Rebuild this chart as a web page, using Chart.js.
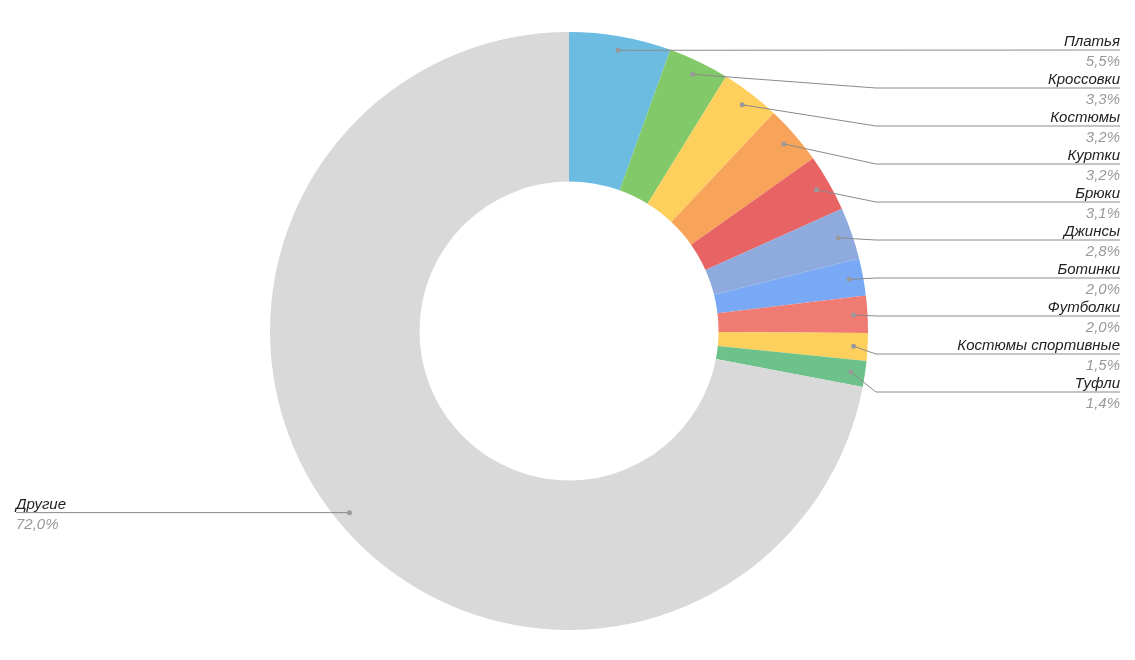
<!DOCTYPE html>
<html>
<head>
<meta charset="utf-8">
<script src="https://cdn.jsdelivr.net/npm/chart.js@4"></script>
<style>
  html, body { margin: 0; padding: 0; background: #fff; }
  #wrap { width: 1135px; height: 660px; }
</style>
</head>
<body>
<div id="wrap"><canvas id="chart"></canvas></div>
<script>
const categories = ['Платья', 'Кроссовки', 'Костюмы', 'Куртки', 'Брюки', 'Джинсы', 'Ботинки', 'Футболки', 'Костюмы спортивные', 'Туфли', 'Другие'];
const shares = [5.5, 3.3, 3.2, 3.2, 3.1, 2.8, 2.0, 2.0, 1.5, 1.4, 72.0];
const colors = ['#6bbce0', '#82c96a', '#fdd05e', '#f7a45a', '#e86464', '#8faadc', '#79a9f5', '#f07b72', '#fdd05e', '#6dc18a', '#d9d9d9'];

// labels with leader lines
const leaderLabels = {
  id: 'leaderLabels',
  afterDraw(chart) {
    const ctx = chart.ctx;
    const arcs = chart.getDatasetMeta(0).data;
    ctx.save();
    ctx.font = 'italic 15px "Liberation Sans", Arial, sans-serif';
    ctx.textBaseline = 'alphabetic';
    arcs.forEach((arc, i) => {
      const p = arc.getProps(['x', 'y', 'startAngle', 'endAngle', 'outerRadius']);
      const mid = (p.startAngle + p.endAngle) / 2;
      const r = p.outerRadius * 0.953;
      const dx = p.x + Math.cos(mid) * r;
      const dy = p.y + Math.sin(mid) * r;
      const pct = shares[i].toFixed(1).replace('.', ',') + '%';
      const last = i === arcs.length - 1;
      const lineY = last ? dy : 50 + i * 38;
      ctx.strokeStyle = '#8a8a8a';
      ctx.lineWidth = 1;
      ctx.beginPath();
      if (last) {
        ctx.moveTo(dx, dy);
        ctx.lineTo(16, dy);
      } else {
        ctx.moveTo(dx, dy);
        if (Math.abs(lineY - dy) > 1) ctx.lineTo(876, lineY);
        ctx.lineTo(1120, lineY);
      }
      ctx.stroke();
      ctx.fillStyle = '#999';
      ctx.beginPath();
      ctx.arc(dx, dy, 2.5, 0, Math.PI * 2);
      ctx.fill();
      ctx.textAlign = last ? 'left' : 'right';
      const tx = last ? 16 : 1120;
      ctx.fillStyle = '#222';
      ctx.fillText(categories[i], tx, lineY - 4);
      ctx.fillStyle = '#999';
      ctx.fillText(pct, tx, lineY + 16);
    });
    ctx.restore();
  }
};

new Chart(document.getElementById('chart'), {
  type: 'doughnut',
  data: {
    labels: categories,
    datasets: [{
      data: shares,
      backgroundColor: colors,
      borderWidth: 0
    }]
  },
  options: {
    responsive: true,
    maintainAspectRatio: false,
    animation: false,
    cutout: '50%',
    layout: { padding: { top: 32, bottom: 30, left: 3, right: 0 } },
    plugins: {
      legend: { display: false },
      tooltip: { enabled: false }
    }
  },
  plugins: [leaderLabels]
});
</script>
</body>
</html>
